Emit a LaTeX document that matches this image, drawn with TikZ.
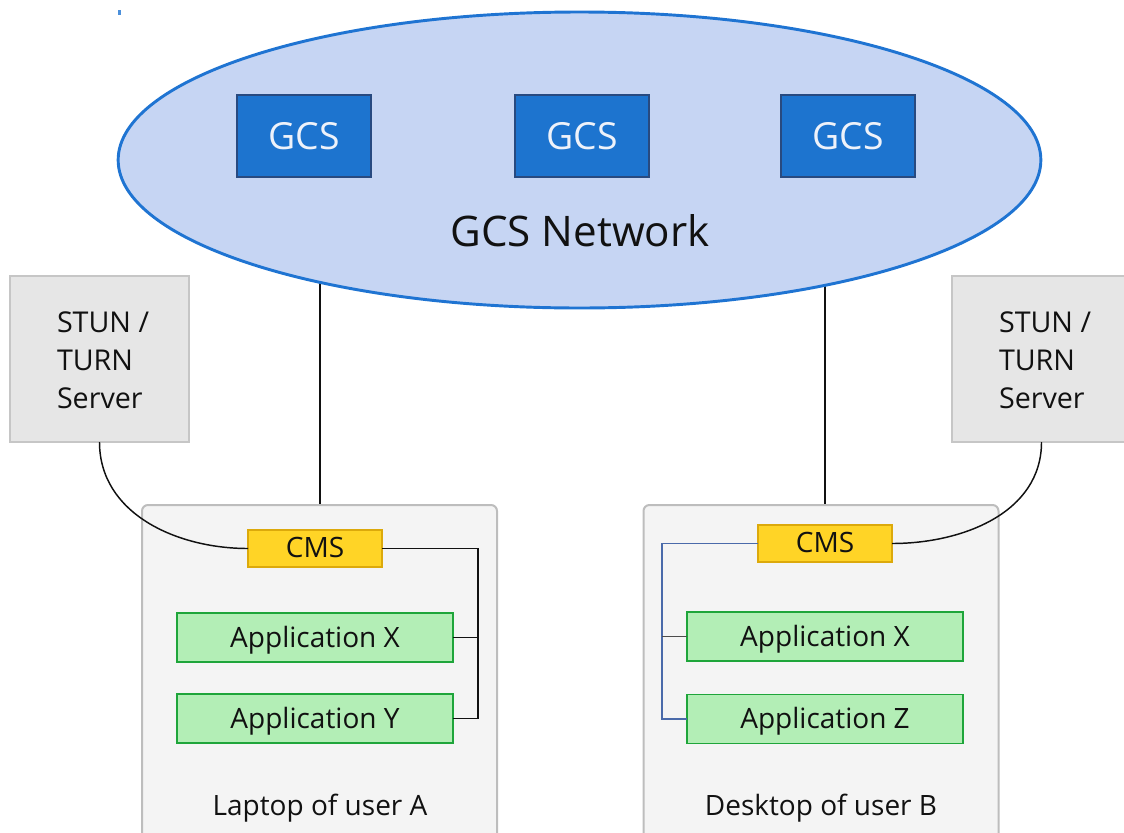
\documentclass[tikz,border=0pt]{standalone}
\usepackage{fontspec}
\setmainfont{Open Sans}
\usetikzlibrary{shapes.geometric,backgrounds}
\definecolor{netfill}{HTML}{C6D5F3}
\definecolor{netline}{HTML}{1F74D2}
\definecolor{gcsfill}{HTML}{1D74CF}
\definecolor{gcsline}{HTML}{284A80}
\definecolor{gcstext}{HTML}{EEF2FA}
\definecolor{srvfill}{HTML}{E6E6E6}
\definecolor{srvline}{HTML}{C6C6C6}
\definecolor{devfill}{HTML}{F4F4F4}
\definecolor{devline}{HTML}{BDBDBD}
\definecolor{cmsfill}{HTML}{FFD426}
\definecolor{cmsline}{HTML}{DCA90B}
\definecolor{appfill}{HTML}{B3EEB6}
\definecolor{appline}{HTML}{1EA53A}
\definecolor{busblue}{HTML}{4A6AAA}
\definecolor{ink}{HTML}{111111}
\begin{document}
\begin{tikzpicture}[x=0.75pt,y=-0.75pt,
  every node/.style={inner sep=0pt,outer sep=0pt,text=ink},
  network/.style={ellipse,draw=netline,fill=netfill,line width=2.2pt,
    minimum width=692pt,minimum height=222pt},
  gcsbox/.style={draw=gcsline,fill=gcsfill,line width=1.8pt,text=gcstext,
    minimum width=100.5pt,minimum height=61.5pt,font=\fontsize{28}{32}\selectfont},
  server/.style={draw=srvline,fill=srvfill,line width=1.5pt,
    minimum width=134.25pt,minimum height=124.5pt},
  servertext/.style={anchor=west,align=left,font=\fontsize{21.5}{28.5}\selectfont},
  device/.style={draw=devline,fill=devfill,line width=1.5pt,rounded corners=4.5pt,
    minimum width=266.25pt,minimum height=270pt},
  cmsbox/.style={draw=cmsline,fill=cmsfill,line width=1.5pt,text depth=1pt,
    minimum width=100.5pt,minimum height=27.75pt,font=\fontsize{21}{24}\selectfont},
  appbox/.style={draw=appline,fill=appfill,line width=1.2pt,text depth=1pt,
    minimum width=207pt,minimum height=36.75pt,font=\fontsize{21}{24}\selectfont},
  caption/.style={font=\fontsize{21}{24}\selectfont},
  link/.style={draw=ink,line width=1.1pt},
  bus/.style={line width=0.9pt}]
\useasboundingbox (0,0) rectangle (1124,832);
\clip (0,0) rectangle (1124,832);

% stray mark near the top edge
\fill[fill=netline!80] (118,10) rectangle (120.5,14.5);

% devices
\node[device] (devL) at (319.5,685) {};
\node[device] (devR) at (821,685) {};
\node[caption] (labL) at (320,808) {Laptop of user A};
\node[caption] (labR) at (821,808) {Desktop of user B};

% STUN / TURN servers
\node[server] (stunL) at (99.5,359) {};
\node[servertext] (stunLtxt) at (57,360) {STUN /\\TURN\\Server};
\node[server] (stunR) at (1041.5,359) {};
\node[servertext] (stunRtxt) at (999,360) {STUN /\\TURN\\Server};

% GCS network
\node[network] (net) at (579.5,160) {};
\node[gcsbox] (gcs1) at (304,136) {GCS};
\node[gcsbox] (gcs2) at (582,136) {GCS};
\node[gcsbox] (gcs3) at (848,136) {GCS};
\node[font=\fontsize{31.6}{36}\selectfont] (netlabel) at (580,231) {GCS Network};

% components inside the devices
\node[cmsbox] (cmsL) at (315,548.5) {CMS};
\node[cmsbox] (cmsR) at (825,543.5) {CMS};
\node[appbox] (appXL) at (315,637.5) {Application X};
\node[appbox] (appYL) at (315,718.5) {Application Y};
\node[appbox] (appXR) at (825,636.5) {Application X};
\node[appbox] (appZR) at (825,719) {Application Z};

\coordinate (busL) at (478,548.5);
\coordinate (busR) at (662,543.5);

\begin{pgfonlayer}{background}
  % uplinks from the devices into the network
  \draw[link] (devL.north -| 320,0) -- (320,200);
  \draw[link] (cmsR.north |- devR.north) -- (cmsR.north |- net.center);
\end{pgfonlayer}

% server links
\draw[link] (stunL.south) to[out=-90,in=180] (cmsL.west);
\draw[link] (stunR.south) to[out=-90,in=0] (cmsR.east);

% CMS to applications, laptop
\draw[bus,draw=ink] (cmsL.east) -- (busL) -- (busL |- appYL.east) -- (appYL.east);
\draw[bus,draw=ink] (appXL.east) -- (appXL.east -| busL);

% CMS to applications, desktop
\draw[bus,draw=busblue] (cmsR.west) -- (busR) -- (busR |- appZR.west) -- (appZR.west);
\draw[bus,draw=ink!75] (appXR.west) -- (appXR.west -| busR);
\end{tikzpicture}
\end{document}
